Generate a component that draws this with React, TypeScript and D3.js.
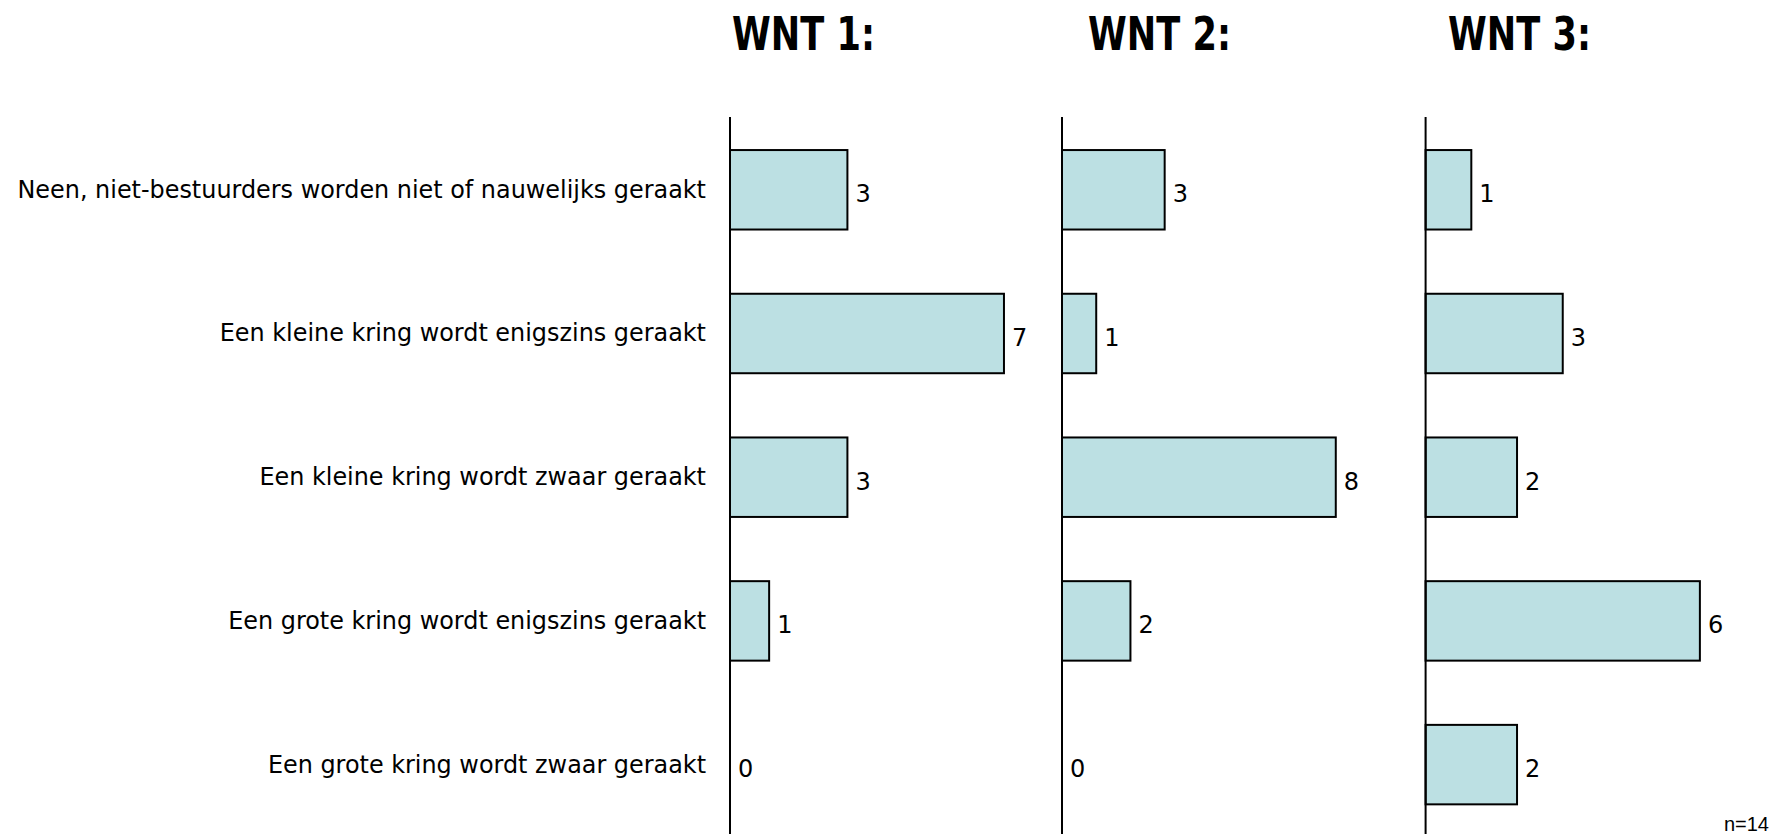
import React from "react";
import * as d3 from "d3";

const categories = [
  "Neen, niet-bestuurders worden niet of nauwelijks geraakt",
  "Een kleine kring wordt enigszins geraakt",
  "Een kleine kring wordt zwaar geraakt",
  "Een grote kring wordt enigszins geraakt",
  "Een grote kring wordt zwaar geraakt",
];
const panelTitles = ["WNT 1:", "WNT 2:", "WNT 3:"];
const wnt1 = [3, 7, 3, 1, 0];
const wnt2 = [3, 1, 8, 2, 0];
const wnt3 = [1, 3, 2, 6, 2];
const seriesValues = [wnt1, wnt2, wnt3];
const axisMax = [8, 9, 7];
const note = "n=14";

const W = 1771;
const H = 834;
const panelX = [730, 1062, 1425.6];
const panelW = [313.1, 308, 320];
const titleX = [732, 1088, 1448];
const FILL = "#bce0e3";
const labelFont = "'DejaVu Sans', Verdana, sans-serif";

export default function App() {
  const y = d3
    .scaleBand<string>()
    .domain(categories)
    .range([117, 837.4])
    .paddingInner(0.447)
    .paddingOuter(0.23);

  return (
    <svg
      width={W}
      height={H}
      style={{ position: "absolute", left: 0, top: 0, background: "#fff" }}
    >
      {categories.map((c) => (
        <text
          key={c}
          x={706}
          y={(y(c) ?? 0) + y.bandwidth() / 2 + 8}
          textAnchor="end"
          fontFamily={labelFont}
          fontSize={23.9}
          fill="#000"
        >
          {c}
        </text>
      ))}
      {seriesValues.map((vals, p) => {
        const x = d3
          .scaleLinear()
          .domain([0, axisMax[p]])
          .range([panelX[p], panelX[p] + panelW[p]]);
        return (
          <g key={p}>
            <text
              x={titleX[p]}
              y={50}
              fontFamily="'DejaVu Sans', sans-serif"
              fontWeight="bold"
              fontSize={46}
              textLength={143}
              lengthAdjust="spacingAndGlyphs"
              fill="#000"
            >
              {panelTitles[p]}
            </text>
            {vals.map((v, i) => {
              const c = categories[i];
              const y0 = y(c) ?? 0;
              return (
                <g key={c}>
                  {v > 0 && (
                    <rect
                      x={x(0)}
                      y={y0}
                      width={x(v) - x(0)}
                      height={y.bandwidth()}
                      fill={FILL}
                      stroke="#000"
                      strokeWidth={2}
                    />
                  )}
                  <text
                    x={x(v) + 8}
                    y={y0 + y.bandwidth() / 2 + 12.5}
                    fontFamily={labelFont}
                    fontSize={24}
                    fill="#000"
                  >
                    {v}
                  </text>
                </g>
              );
            })}
            <line
              x1={x(0)}
              x2={x(0)}
              y1={117}
              y2={H}
              stroke="#000"
              strokeWidth={2}
            />
          </g>
        );
      })}
      <text
        x={1769}
        y={831}
        textAnchor="end"
        fontFamily="'Liberation Sans', Arial, sans-serif"
        fontSize={20}
        fill="#000"
      >
        {note}
      </text>
    </svg>
  );
}
